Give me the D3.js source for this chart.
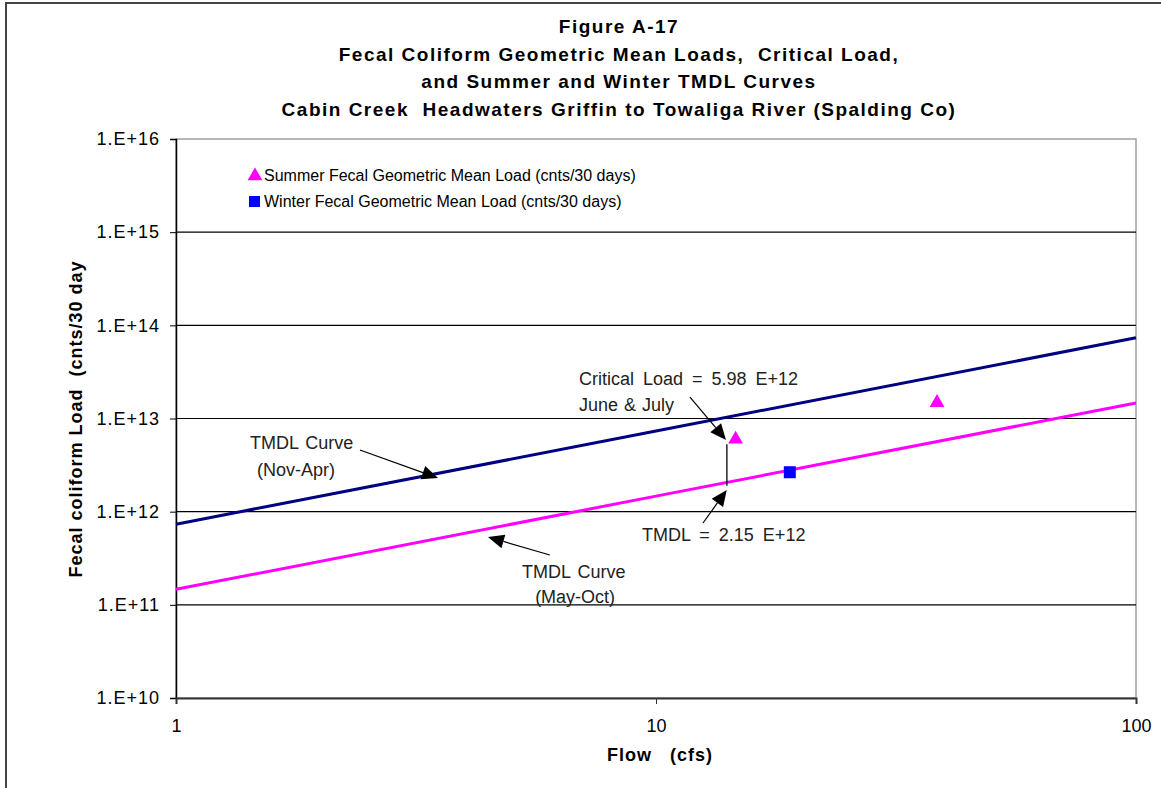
<!DOCTYPE html>
<html>
<head>
<meta charset="utf-8">
<script src="https://cdn.jsdelivr.net/npm/d3@7"></script>
<style>
  html, body { margin: 0; padding: 0; background: #fff; }
  svg { display: block; font-family: "Liberation Sans", Arial, sans-serif; }
</style>
</head>
<body>
<svg id="chart" width="1161" height="788"></svg>
<script>
// ---- data ----
const titleLines = [
  "Figure A-17",
  "Fecal Coliform Geometric Mean Loads,  Critical Load,",
  "and Summer and Winter TMDL Curves",
  "Cabin Creek  Headwaters Griffin to Towaliga River (Spalding Co)"
];
const yTicks = [1e10, 1e11, 1e12, 1e13, 1e14, 1e15, 1e16];
const yTickLabels = ["1.E+10", "1.E+11", "1.E+12", "1.E+13", "1.E+14", "1.E+15", "1.E+16"];
const xTicks = [1, 10, 100];
const xTickLabels = ["1", "10", "100"];

// TMDL curves (flow cfs, load cnts/30 days)
const winterCurveFlow = [1, 10, 100];
const winterCurveLoad = [7.34e11, 7.34e12, 7.34e13];
const summerCurveFlow = [1, 10, 100];
const summerCurveLoad = [1.468e11, 1.468e12, 1.468e13];

// geometric mean loads
const summerFlow = [14.65, 38.5];
const summerLoad = [5.98e12, 1.48e13];
const winterFlow = [19.0];
const winterLoad = [2.65e12];

// critical condition
const criticalFlow = 14.05;
const criticalLoad = 5.98e12;
const tmdlLoad = 2.15e12;

// ---- layout ----
const svg = d3.select("#chart");
const x = d3.scaleLog().domain([1, 100]).range([176, 1136]);
const y = d3.scaleLog().domain([1e10, 1e16]).range([698, 139]);
const font = "'Liberation Sans', Arial, sans-serif";

// outer frame
svg.append("rect").attr("x", 6).attr("y", 3).attr("width", 1200).attr("height", 900)
  .attr("fill", "none").attr("stroke", "#444").attr("stroke-width", 2);

// title
svg.append("g").selectAll("text").data(titleLines).join("text")
  .attr("x", 619).attr("y", (d, i) => 33 + i * 27.7)
  .attr("text-anchor", "middle").attr("font-weight", "bold").attr("font-size", 19)
  .attr("letter-spacing", 1.5).attr("xml:space", "preserve")
  .attr("fill", "#000").text(d => d);

// plot border
svg.append("rect").attr("x", x(1)).attr("y", y(1e16))
  .attr("width", x(100) - x(1)).attr("height", y(1e10) - y(1e16))
  .attr("fill", "#fff").attr("stroke", "#a0a0a0").attr("stroke-width", 1.5);

// gridlines
svg.append("g").selectAll("line").data(yTicks.filter(d => d > 1e10 && d < 1e16)).join("line")
  .attr("x1", x(1)).attr("x2", x(100))
  .attr("y1", d => y(d)).attr("y2", d => y(d))
  .attr("stroke", "#000").attr("stroke-width", 1.2);

// y axis
const yAxis = d3.axisLeft(y).tickValues(yTicks).tickSize(6)
  .tickFormat((d, i) => yTickLabels[i]);
const gy = svg.append("g").attr("transform", `translate(${x(1)},0)`).call(yAxis);
gy.select(".domain").attr("stroke", "#000").attr("stroke-width", 1.5);
gy.selectAll(".tick line").attr("stroke", "#000");
gy.selectAll(".tick text").attr("font-size", 18).attr("font-family", font)
  .attr("letter-spacing", 1).attr("fill", "#000").attr("x", -16);

// x axis
const xAxis = d3.axisBottom(x).tickValues(xTicks).tickSize(6)
  .tickFormat((d, i) => xTickLabels[i]);
const gx = svg.append("g").attr("transform", `translate(0,${y(1e10)})`).call(xAxis);
gx.select(".domain").attr("stroke", "#333").attr("stroke-width", 2);
gx.selectAll(".tick line").attr("stroke", "#333");
gx.selectAll(".tick text").attr("font-size", 18).attr("font-family", font)
  .attr("fill", "#000").attr("y", 21);

// axis titles
svg.append("text").attr("x", 660).attr("y", 761).attr("text-anchor", "middle")
  .attr("font-weight", "bold").attr("font-size", 18).attr("letter-spacing", 1)
  .attr("xml:space", "preserve").text("Flow   (cfs)");
svg.append("text").attr("transform", "translate(82,419) rotate(-90)")
  .attr("text-anchor", "middle").attr("font-weight", "bold").attr("font-size", 18)
  .attr("letter-spacing", 1).attr("xml:space", "preserve")
  .text("Fecal coliform Load  (cnts/30 day");

// curves
const line = d3.line().x(d => x(d[0])).y(d => y(d[1]));
svg.append("path").datum(winterCurveFlow.map((f, i) => [f, winterCurveLoad[i]]))
  .attr("d", line).attr("fill", "none").attr("stroke", "#000080").attr("stroke-width", 3);
svg.append("path").datum(summerCurveFlow.map((f, i) => [f, summerCurveLoad[i]]))
  .attr("d", line).attr("fill", "none").attr("stroke", "#ff00ff").attr("stroke-width", 3);

// critical connector
svg.append("line").attr("x1", x(criticalFlow)).attr("x2", x(criticalFlow))
  .attr("y1", y(criticalLoad) + 5).attr("y2", y(tmdlLoad) + 5)
  .attr("stroke", "#000").attr("stroke-width", 1.3);

// markers
const tri = d3.symbol().type(d3.symbolTriangle).size(95);
svg.append("g").selectAll("path").data(summerFlow.map((f, i) => [f, summerLoad[i]])).join("path")
  .attr("d", tri).attr("transform", d => `translate(${x(d[0])},${y(d[1])})`)
  .attr("fill", "#ff00ff");
svg.append("g").selectAll("rect").data(winterFlow.map((f, i) => [f, winterLoad[i]])).join("rect")
  .attr("x", d => x(d[0]) - 6).attr("y", d => y(d[1]) - 6)
  .attr("width", 12).attr("height", 12).attr("fill", "#0000ff");

// legend
const legend = svg.append("g");
legend.append("path").attr("d", tri).attr("transform", "translate(255,176)").attr("fill", "#ff00ff");
legend.append("rect").attr("x", 249).attr("y", 196).attr("width", 11).attr("height", 11).attr("fill", "#0000ff");
legend.append("text").attr("x", 264).attr("y", 181).attr("font-size", 16)
  .text("Summer Fecal Geometric Mean Load (cnts/30 days)");
legend.append("text").attr("x", 264).attr("y", 207).attr("font-size", 16)
  .text("Winter Fecal Geometric Mean Load (cnts/30 days)");

// annotations: text, anchor flow, anchor load
const noteText = ["Critical Load = 5.98 E+12", "June & July", "TMDL = 2.15 E+12",
  "TMDL Curve", "(Nov-Apr)", "TMDL Curve", "(May-Oct)"];
const noteFlow = [6.91, 6.91, 9.35, 1.426, 1.475, 5.26, 5.60];
const noteLoad = [2.29e13, 1.20e13, 4.84e11, 4.71e12, 2.41e12, 1.94e11, 1.05e11];
const noteWordSpacing = [4, 1, 4, 2, 0, 2, 0];
svg.append("g").selectAll("text").data(noteText).join("text")
  .attr("x", (d, i) => x(noteFlow[i])).attr("y", (d, i) => y(noteLoad[i]))
  .attr("font-size", 18).attr("word-spacing", (d, i) => noteWordSpacing[i])
  .attr("fill", "#222").text(d => d);

// arrows: from [flow, load] to tip [flow, load]
const arrowFrom = [[11.77, 1.70e13], [12.53, 7.56e11], [2.417, 4.59e12], [6.01, 3.43e11]];
const arrowTo = [[13.99, 5.88e12], [14.04, 1.71e12], [3.514, 2.30e12], [4.467, 5.35e11]];
const arrows = svg.append("g");
arrowFrom.forEach((a, i) => {
  const x0 = x(a[0]), y0 = y(a[1]), x1 = x(arrowTo[i][0]), y1 = y(arrowTo[i][1]);
  const ang = Math.atan2(y1 - y0, x1 - x0);
  const L = 16, W = 7;
  const bx = x1 - L * Math.cos(ang), by = y1 - L * Math.sin(ang);
  arrows.append("line").attr("x1", x0).attr("y1", y0).attr("x2", bx).attr("y2", by)
    .attr("stroke", "#000").attr("stroke-width", 1.2);
  const px = -Math.sin(ang) * W, py = Math.cos(ang) * W;
  arrows.append("path")
    .attr("d", `M${x1},${y1}L${bx + px},${by + py}L${bx - px},${by - py}Z`)
    .attr("fill", "#000");
});
</script>
</body>
</html>
